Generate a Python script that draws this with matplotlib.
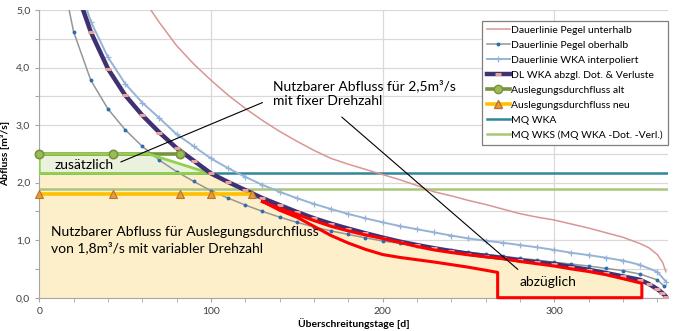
import numpy as np
import matplotlib.pyplot as plt

plt.rcParams['font.family'] = ['Lato', 'DejaVu Sans']

# Dauerlinien (Tage, Abfluss m3/s)
unten_d = [60, 65, 70, 80, 90, 100, 110, 120, 130, 140, 150, 160, 170, 180, 190, 200,
           210, 220, 230, 240, 250, 260, 270, 280, 290, 300, 310, 320, 330, 340, 350,
           355, 360, 363, 365]
unten_q = [5.25, 5.0, 4.78, 4.38, 4.06, 3.78, 3.52, 3.29, 3.08, 2.89, 2.72, 2.56, 2.42,
           2.32, 2.23, 2.14, 2.05, 1.95, 1.84, 1.77, 1.69, 1.62, 1.54, 1.46, 1.40, 1.35,
           1.28, 1.21, 1.13, 1.05, 0.94, 0.87, 0.75, 0.62, 0.45]

oben_d = [15, 20, 30, 40, 50, 60, 70, 80, 90, 100, 110, 120, 130, 140, 150, 160, 170,
          180, 190, 200, 210, 220, 230, 240, 250, 260, 270, 280, 290, 300, 310, 320,
          330, 340, 350, 360, 364]
oben_q = [5.35, 4.62, 3.78, 3.28, 2.92, 2.63, 2.39, 2.19, 2.02, 1.86, 1.73, 1.61, 1.50,
          1.40, 1.31, 1.23, 1.16, 1.10, 1.04, 0.985, 0.945, 0.905, 0.865, 0.83, 0.79,
          0.755, 0.72, 0.685, 0.655, 0.615, 0.585, 0.55, 0.51, 0.47, 0.41, 0.31, 0.20]

wka_d = [25, 30, 40, 50, 60, 70, 80, 90, 100, 110, 120, 130, 140, 150, 160, 170, 180,
         190, 200, 210, 220, 230, 240, 250, 260, 270, 280, 290, 300, 310, 320, 330, 340,
         350, 360, 365]
wka_q = [5.25, 4.80, 4.18, 3.72, 3.39, 3.12, 2.84, 2.63, 2.42, 2.25, 2.10, 1.96, 1.84,
         1.73, 1.63, 1.54, 1.455, 1.38, 1.31, 1.245, 1.19, 1.135, 1.08, 1.03, 0.99,
         0.955, 0.915, 0.876, 0.83, 0.78, 0.74, 0.695, 0.645, 0.57, 0.45, 0.28]

dl_d = [22, 30, 40, 50, 60, 70, 80, 90, 100, 110, 120, 130, 140, 150, 160, 170, 180,
        190, 200, 210, 220, 230, 240, 250, 260, 270, 280, 290, 300, 310, 320, 330, 340,
        350, 355, 360, 363, 365]
dl_q = [5.3, 4.62, 3.98, 3.52, 3.17, 2.87, 2.60, 2.38, 2.16, 2.01, 1.87, 1.73, 1.61,
        1.49, 1.38, 1.285, 1.20, 1.12, 1.045, 0.975, 0.915, 0.86, 0.81, 0.765, 0.725,
        0.69, 0.65, 0.615, 0.585, 0.535, 0.485, 0.43, 0.37, 0.31, 0.24, 0.15, 0.08, 0.02]

# Auslegung
alt_q = 2.5
alt_d = [0, 43, 82]
neu_q = 1.8
neu_d = [0, 43, 82, 100, 124]
mq_wka = 2.16
mq_wks = 1.89

# "zusaetzlich"-Flaeche
zus_d = [0, 0, 63.5, 99.5]
zus_q = [mq_wka, alt_q, alt_q, mq_wka]

# "abzueglich"-Flaeche (rote Umrandung)
abz_oben_d = [130, 140, 150, 160, 170, 180, 190, 200, 210, 220, 230, 240, 250, 260,
              270, 280, 290, 300, 310, 320, 330, 340, 351]
abz_oben_q = [1.67, 1.55, 1.45, 1.34, 1.24, 1.16, 1.09, 1.03, 0.96, 0.89, 0.83, 0.785,
              0.745, 0.71, 0.68, 0.63, 0.59, 0.55, 0.50, 0.455, 0.40, 0.33, 0.25]
abz_unten_d = [131, 140, 150, 160, 170, 180, 190, 200, 210, 220, 230, 250, 267]
abz_unten_q = [1.66, 1.52, 1.40, 1.24, 1.08, 0.95, 0.84, 0.75, 0.70, 0.66, 0.62, 0.53, 0.44]
nutz_ende = 351

fig = plt.figure(figsize=(6.82, 3.31), dpi=100)
ax = fig.add_axes([0.0576, 0.1006, 0.9213, 0.8692])
ax.set_xlim(0, 366)
ax.set_ylim(0, 5)

yt = np.arange(0, 5.01, 0.5)
ax.set_yticks(yt)
ax.set_yticklabels([('%.1f' % v).replace('.', ',') if i % 2 == 0 else ''
                    for i, v in enumerate(yt)])
ax.set_xticks([0, 100, 200, 300])
ax.set_xticks(np.arange(0, 366, 20), minor=True)
ax.grid(axis='y', which='major', color='#D9D9D9', lw=0.9, zorder=0)
ax.grid(axis='x', which='major', color='#D9D9D9', lw=0.9, zorder=0)
for s in ['top', 'right']:
    ax.spines[s].set_visible(False)
for s in ['left', 'bottom']:
    ax.spines[s].set_color('#A6A6A6')
ax.tick_params(axis='both', which='both', colors='#A6A6A6', labelcolor='#404040',
               labelsize=7.5, length=3)
ax.set_axisbelow(True)
ax.set_xlabel('Überschreitungstage [d]', fontsize=7.5, fontweight='bold', labelpad=2)
ax.set_ylabel('Abfluss [m³/s]', fontsize=7.5, fontweight='bold', labelpad=4)

# Flaechen
xf = np.linspace(0, nutz_ende, 600)
top = np.minimum(mq_wka, np.interp(xf, dl_d, dl_q))
ax.fill_between(xf, 0, top, color='#FCEFCA', lw=0, zorder=1)
ax.fill(zus_d, zus_q, color='#EAF1DC', lw=0, zorder=1)

l_wka = ax.axhline(mq_wka, color='#31859C', lw=1.8, zorder=2, label='MQ WKA')
l_wks = ax.axhline(mq_wks, color='#A8C77A', lw=1.8, zorder=2,
                   label='MQ WKS (MQ WKA -Dot. -Verl.)')

l_unten, = ax.plot(unten_d, unten_q, color='#D99694', lw=1.1, zorder=3,
                   label='Dauerlinie Pegel unterhalb')
l_oben, = ax.plot(oben_d, oben_q, color='#969696', lw=1.1, marker='o', ms=1.8,
                  mfc='#2E6DB4', mec='#2E6DB4', zorder=3,
                  label='Dauerlinie Pegel oberhalb')
l_wkai, = ax.plot(wka_d, wka_q, color='#95B3D7', lw=1.4, marker='+', ms=5, mew=0.9,
                  zorder=3, label='Dauerlinie WKA interpoliert')

l_alt, = ax.plot([alt_d[0], alt_d[-1]], [alt_q, alt_q], color='#77933C', lw=2.6,
                 zorder=4)
ax.plot(zus_d + [zus_d[0]], zus_q + [zus_q[0]], color='#92D050', lw=2.0, zorder=4)

l_dl, = ax.plot(dl_d, dl_q, color='#403173', lw=3.2, zorder=5,
                marker='_', ms=4.5, mew=2.2, mfc='#E6A29B', mec='#E6A29B',
                label='DL WKA abzgl. Dot. & Verluste')

l_neu, = ax.plot([neu_d[0], neu_d[-1]], [neu_q, neu_q], color='#FFC000', lw=2.6,
                 zorder=5)
m_alt, = ax.plot(alt_d, [alt_q] * len(alt_d), ls='none', marker='o', ms=6,
                 mfc='#9BBB59', mec='#77933C', mew=1.2, zorder=7, clip_on=False)
m_neu, = ax.plot(neu_d, [neu_q] * len(neu_d), ls='none', marker='^', ms=6,
                 mfc='#E59B3F', mec='#C0712A', mew=0.8, zorder=7, clip_on=False)

# rote Umrandung
rx = abz_oben_d + [nutz_ende, abz_unten_d[-1]] + abz_unten_d[::-1] + [abz_oben_d[0]]
ry = abz_oben_q + [0.0, 0.0] + abz_unten_q[::-1] + [abz_oben_q[0]]
ax.plot(rx, ry, color='#FF0000', lw=2.2, zorder=6, clip_on=False)

# Beschriftungen
ax.text(136, 3.55, 'Nutzbarer Abfluss für 2,5m³/s\nmit fixer Drehzahl', fontsize=10,
        va='center', ha='left', linespacing=1.3, zorder=8)
ax.text(9, 2.31, 'zusätzlich', fontsize=10, va='center', ha='left', zorder=8)
ax.text(7, 1.0, 'Nutzbarer Abfluss für Auslegungsdurchfluss\nvon 1,8m³/s mit variabler Drehzahl',
        fontsize=10, va='center', ha='left', linespacing=1.35, zorder=8)
ax.text(280, 0.28, 'abzüglich', fontsize=10, va='center', ha='left', zorder=8)
ax.annotate('', xy=(46, 2.34), xytext=(131.5, 3.41),
            arrowprops=dict(arrowstyle='-', color='black', lw=0.8), zorder=8)
ax.annotate('', xy=(280, 0.46), xytext=(175, 3.17),
            arrowprops=dict(arrowstyle='-', color='black', lw=0.8), zorder=8)

# Legende
h_alt = plt.Line2D([], [], color='#77933C', lw=2.6, marker='o', ms=6,
                   mfc='#9BBB59', mec='#77933C')
h_neu = plt.Line2D([], [], color='#FFC000', lw=2.6, marker='^', ms=6,
                   mfc='#E59B3F', mec='#C0712A')
handles = [l_unten, l_oben, l_wkai, l_dl, h_alt, h_neu, l_wka, l_wks]
labels = ['Dauerlinie Pegel unterhalb', 'Dauerlinie Pegel oberhalb',
          'Dauerlinie WKA interpoliert', 'DL WKA abzgl. Dot. & Verluste',
          'Auslegungsdurchfluss alt', 'Auslegungsdurchfluss neu', 'MQ WKA',
          'MQ WKS (MQ WKA -Dot. -Verl.)']
leg = fig.legend(handles, labels, loc='upper left', bbox_to_anchor=(0.707, 0.9375),
                 fontsize=7.5, numpoints=1, handlelength=2.2, handletextpad=0.15,
                 labelspacing=0.55, borderpad=0.45, fancybox=False, framealpha=1,
                 edgecolor='#7F7F7F', borderaxespad=0)
leg.get_frame().set_linewidth(0.9)

fig.savefig('out.png', dpi=100)
